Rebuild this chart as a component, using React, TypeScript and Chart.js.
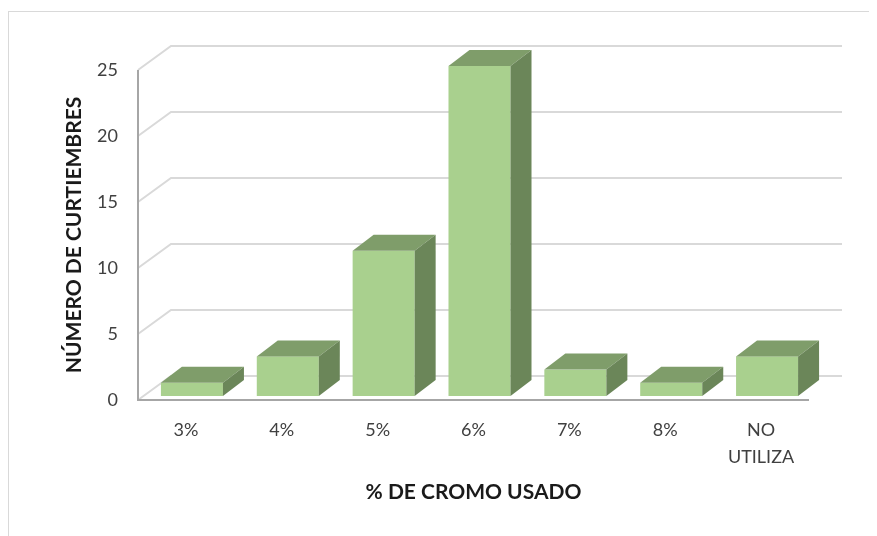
import React, { useEffect, useRef } from "react";
import { Chart, registerables } from "chart.js";

Chart.register(...registerables);

// Categories and counts
const categories: (string | string[])[] = ["3%", "4%", "5%", "6%", "7%", "8%", ["NO", "UTILIZA"]];
const tanneryCounts: number[] = [1, 3, 11, 25, 2, 1, 3];
const yTicks: number[] = [0, 5, 10, 15, 20, 25];

const yTitle = "NÚMERO DE CURTIEMBRES";
const xTitle = "% DE CROMO USADO";

// 3D projection offsets (pixels)
const WALL_DX = 33;
const WALL_DY = -24;
const BAR_OX = 6;
const BAR_OY = -4;
const BAR_DX = 21;
const BAR_DY = -16;

const FRONT = "#a9d08e";
const TOP = "#7f9d6a";
const SIDE = "#6b8659";

const FONT = "Lato, 'Open Sans', sans-serif";

const threeDPlugin = {
  id: "threeD",
  beforeDraw(chart: any) {
    const { ctx } = chart;
    ctx.save();
    ctx.strokeStyle = "#d9d9d9";
    ctx.lineWidth = 1;
    ctx.strokeRect(0.5, 3.5, 3000, 3000);
    ctx.restore();
  },
  beforeDatasetsDraw(chart: any) {
    const { ctx, chartArea } = chart;
    const yScale = chart.scales.y;
    const { left, right, top, bottom } = chartArea;
    ctx.save();
    ctx.strokeStyle = "#d9d9d9";
    ctx.lineWidth = 2;
    yTicks.forEach((v) => {
      const y = yScale.getPixelForValue(v);
      ctx.beginPath();
      ctx.moveTo(left, y);
      ctx.lineTo(left + WALL_DX, y + WALL_DY);
      ctx.lineTo(right + WALL_DX, y + WALL_DY);
      ctx.stroke();
    });
    // front axes
    ctx.strokeStyle = "#a6a6a6";
    ctx.lineWidth = 2;
    ctx.beginPath();
    ctx.moveTo(left, top);
    ctx.lineTo(left, bottom);
    ctx.lineTo(right, bottom);
    ctx.stroke();
    ctx.restore();
  },
  afterDatasetsDraw(chart: any) {
    const { ctx } = chart;
    const meta = chart.getDatasetMeta(0);
    ctx.save();
    meta.data.forEach((el: any) => {
      const { x, y, base, width } = el.getProps(["x", "y", "base", "width"], true);
      const x0 = x - width / 2 + BAR_OX;
      const x1 = x0 + width;
      const yt = y + BAR_OY;
      const yb = base + BAR_OY;
      ctx.fillStyle = FRONT;
      ctx.fillRect(x0, yt, width, yb - yt);
      ctx.fillStyle = TOP;
      ctx.beginPath();
      ctx.moveTo(x0, yt);
      ctx.lineTo(x1, yt);
      ctx.lineTo(x1 + BAR_DX, yt + BAR_DY);
      ctx.lineTo(x0 + BAR_DX, yt + BAR_DY);
      ctx.closePath();
      ctx.fill();
      ctx.fillStyle = SIDE;
      ctx.beginPath();
      ctx.moveTo(x1, yt);
      ctx.lineTo(x1 + BAR_DX, yt + BAR_DY);
      ctx.lineTo(x1 + BAR_DX, yb + BAR_DY);
      ctx.lineTo(x1, yb);
      ctx.closePath();
      ctx.fill();
    });
    ctx.restore();
  },
};

export default function App() {
  const ref = useRef<HTMLCanvasElement | null>(null);

  useEffect(() => {
    if (!ref.current) return;
    const chart = new Chart(ref.current, {
      type: "bar",
      data: {
        labels: categories,
        datasets: [
          {
            data: tanneryCounts,
            backgroundColor: "rgba(0,0,0,0)",
            borderWidth: 0,
            categoryPercentage: 1,
            barPercentage: 0.647,
          },
        ],
      },
      options: {
        responsive: false,
        animation: false,
        events: [],
        layout: { padding: { left: 0, top: 62, right: 68, bottom: 0 } },
        plugins: { legend: { display: false }, tooltip: { enabled: false } },
        scales: {
          x: {
            grid: { display: false, drawTicks: false },
            border: { display: false },
            ticks: {
              color: "#404040",
              padding: 17,
              maxRotation: 0,
              autoSkip: false,
              font: { family: FONT, size: 18, lineHeight: 1.5 },
            },
            title: {
              display: true,
              text: xTitle,
              color: "#1a1a1a",
              padding: { top: 0, bottom: 31 },
              font: { family: FONT, size: 21, weight: "bold" },
            },
            afterFit(scale: any) {
              scale.height = 136;
            },
          },
          y: {
            min: 0,
            max: 25,
            grid: { display: false, drawTicks: false },
            border: { display: false },
            ticks: {
              stepSize: 5,
              color: "#404040",
              padding: 20,
              font: { family: FONT, size: 18 },
            },
            title: {
              display: true,
              text: yTitle,
              color: "#1a1a1a",
              padding: { top: 54, bottom: 0 },
              font: { family: FONT, size: 21, weight: "bold" },
            },
            afterFit(scale: any) {
              scale.width = 130;
            },
          },
        },
      },
      plugins: [threeDPlugin],
    });
    return () => chart.destroy();
  }, []);

  return (
    <div style={{ width: 869, height: 528 }}>
      <canvas ref={ref} width={869} height={528} style={{ display: "block" }} />
    </div>
  );
}
